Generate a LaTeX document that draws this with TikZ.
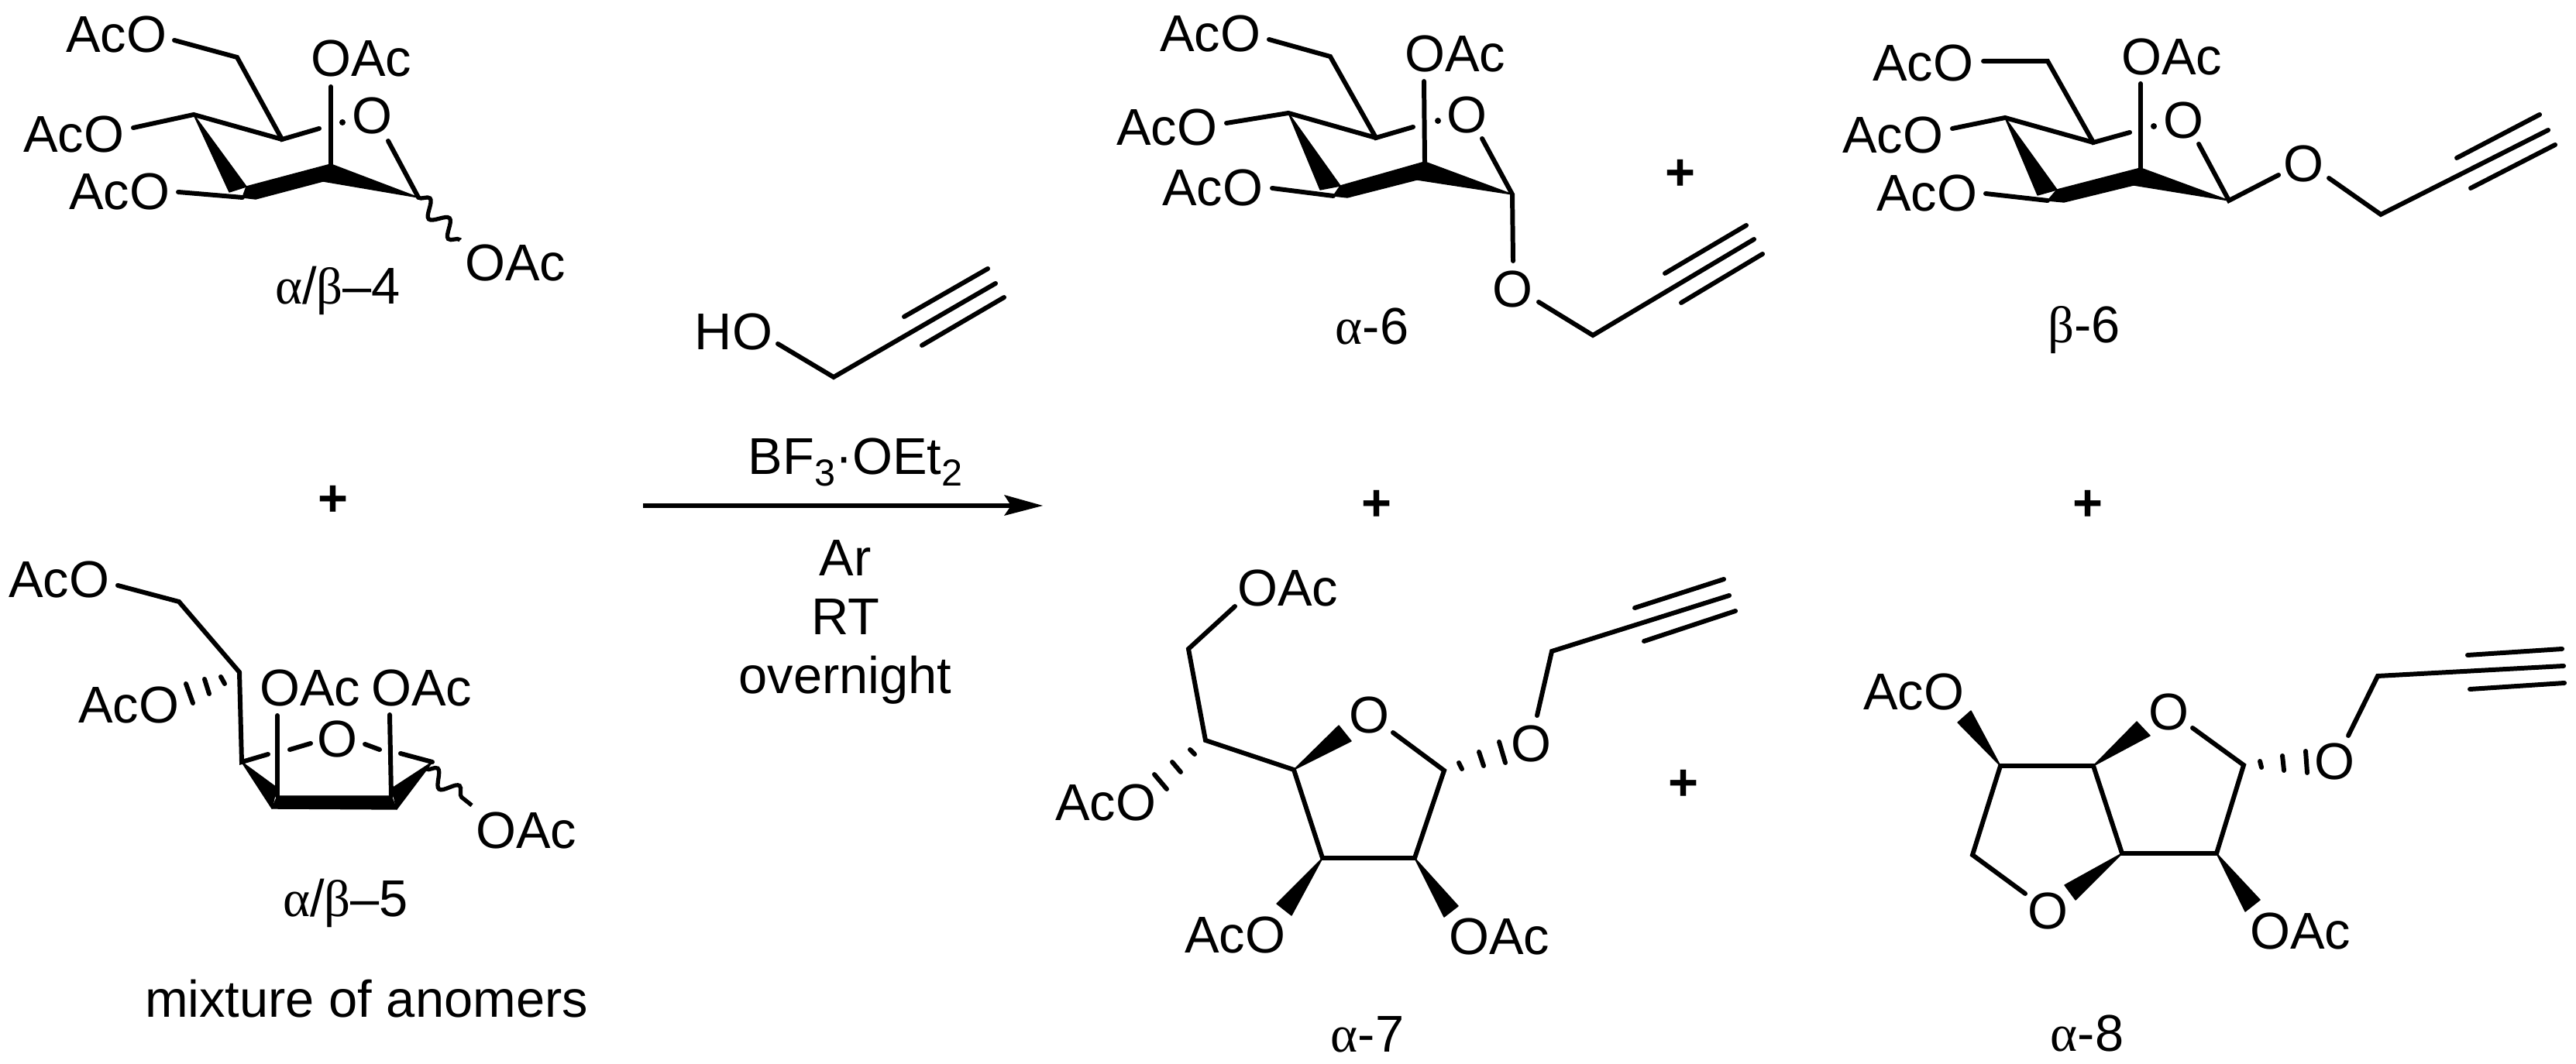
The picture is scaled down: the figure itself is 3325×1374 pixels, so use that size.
\documentclass[tikz,border=0pt]{standalone}
\usepackage{fontspec}
\setmainfont{Liberation Sans}
\newfontfamily\grk{Liberation Serif}
\usetikzlibrary{decorations.pathmorphing}
\tikzset{
  chem/.style={anchor=base,inner sep=0pt,outer sep=0pt,font=\fontsize{19}{21}\selectfont},
  plus/.style={anchor=center,inner sep=0pt,font=\bfseries\fontsize{19}{21}\selectfont},
  bond/.style={line width=1.7pt,line cap=round,line join=miter},
  hashb/.style={line width=1.7pt,line cap=round},
  wedge/.style={fill=black,draw=black,line width=0.4pt,line join=round},
  wavy/.style={line width=1.5pt,decorate,decoration={snake,segment length=0.36cm,amplitude=0.1cm}},
  dotb/.style={fill=black},
  arrowline/.style={line width=1.7pt}
}
\begin{document}
\begin{tikzpicture}[x=0.01cm,y=-0.01cm]
\path[use as bounding box,fill=white] (0,0) rectangle (3325,1374);

% ---------- alpha/beta-4 ----------
\node[chem] (a-t1) at (150,68) {AcO};
\node[chem] (a-t2) at (95,197) {AcO};
\node[chem] (a-t3) at (154,271) {AcO};
\node[chem] (a-t4) at (466,99) {OAc};
\node[chem] (a-o) at (480,173) {O};
\node[chem] (a-t5) at (665,363) {OAc};
\node[chem] (a-lab) at (436,393) {{\grk α}/{\grk β}–4};
\coordinate (a1) at (225,52); \coordinate (a2) at (306,74); \coordinate (a3) at (364,180);
\coordinate (a4) at (412,166); \coordinate (a5) at (250,148); \coordinate (a6) at (172,165);
\coordinate (a7) at (296,248); \coordinate (a8) at (318,241); \coordinate (a9) at (427,212);
\coordinate (a10) at (417,234); \coordinate (a11) at (330,257); \coordinate (a12) at (313,255);
\coordinate (a13) at (230,248); \coordinate (a14) at (427,112); \coordinate (a15) at (442,158);
\coordinate (a16) at (501,182); \coordinate (a17) at (540,255); \coordinate (a18) at (594,310);
\draw[bond] (a1) -- (a2) -- (a3) -- (a4);
\draw[bond] (a6) -- (a5) -- (a3);
\draw[bond] (a13) -- (a12);
\draw[bond] (a14) -- (a9);
\draw[bond] (a16) -- (a17);
\fill[wedge] (a5) -- (a7) -- (a8) -- cycle;
\fill[wedge] (a8) -- (a9) -- (a10) -- (a11) -- (a12) -- cycle;
\fill[wedge] (a9) -- (a17) -- (a10) -- cycle;
\fill[dotb] (a15) circle[radius=4];
\draw[wavy] (a17) -- (a18);

% ---------- alpha/beta-5 ----------
\node[chem] (b-t1) at (76,772) {AcO};
\node[chem] (b-t2) at (166,934) {AcO};
\node[chem] (b-t3) at (400,912) {OAc};
\node[chem] (b-t4) at (544,912) {OAc};
\node[chem] (b-o) at (435,978) {O};
\node[chem] (b-t5) at (679,1095) {OAc};
\node[chem] (b-lab) at (446,1183) {{\grk α}/{\grk β}–5};
\node[chem] (b-mix) at (473,1313) {mixture of anomers};
\coordinate (b1) at (152,756); \coordinate (b2) at (231,777); \coordinate (b3) at (309,868);
\coordinate (b4) at (312,984); \coordinate (b5) at (346,974); \coordinate (b6) at (374,968);
\coordinate (b7) at (401,960); \coordinate (b8) at (471,961); \coordinate (b9) at (490,968);
\coordinate (b10) at (517,973); \coordinate (b11) at (558,984);
\coordinate (b12) at (358,924); \coordinate (b13) at (358,1028);
\coordinate (b14) at (503,923); \coordinate (b15) at (505,1028);
\coordinate (b16) at (357,1017); \coordinate (b17) at (351,1044);
\coordinate (b18) at (512,1045); \coordinate (b19) at (506,1018);
\coordinate (b20) at (550,993); \coordinate (b21) at (609,1040);
\coordinate (bh1) at (285,874); \coordinate (bh2) at (290,883);
\coordinate (bh3) at (264,877); \coordinate (bh4) at (270,896);
\coordinate (bh5) at (240,883); \coordinate (bh6) at (249,908);
\draw[bond] (b1) -- (b2) -- (b3) -- (b4) -- (b5);
\draw[bond] (b6) -- (b7);
\draw[bond] (b8) -- (b9);
\draw[bond] (b10) -- (b11);
\draw[bond] (b12) -- (b13);
\draw[bond] (b14) -- (b15);
\fill[wedge] (b4) -- (b16) -- (b17) -- cycle;
\fill[wedge] (b13) -- (b15) -- (b18) -- (b17) -- cycle;
\fill[wedge] (b11) -- (b19) -- (b18) -- cycle;
\draw[hashb] (bh1) -- (bh2);
\draw[hashb] (bh3) -- (bh4);
\draw[hashb] (bh5) -- (bh6);
\draw[wavy] (b20) -- (b21);

% ---------- reagents and arrow ----------
\node[chem] (r-ho) at (947,452) {HO};
\coordinate (r1) at (1004,444); \coordinate (r2) at (1076,487); \coordinate (r3) at (1285,366);
\coordinate (r4) at (1167,409); \coordinate (r5) at (1275,347);
\coordinate (r6) at (1190,446); \coordinate (r7) at (1296,384);
\draw[bond] (r1) -- (r2) -- (r3);
\draw[bond] (r4) -- (r5);
\draw[bond] (r6) -- (r7);
\node[chem] (r-bf) at (1104,613) {BF{\fontsize{13.8}{14}\selectfont\raisebox{-4pt}{3}}·OEt{\fontsize{13.8}{14}\selectfont\raisebox{-4pt}{2}}};
\node[chem] (r-ar) at (1091,744) {Ar};
\node[chem] (r-rt) at (1091,820) {RT};
\node[chem] (r-on) at (1091,896) {overnight};
\coordinate (ar1) at (830,653); \coordinate (ar2) at (1310,653); \coordinate (ar3) at (1346,653);
\coordinate (ar4) at (1296,639); \coordinate (ar5) at (1305,653); \coordinate (ar6) at (1296,666);
\draw[arrowline] (ar1) -- (ar2);
\fill[black] (ar3) -- (ar4) -- (ar5) -- (ar6) -- cycle;

% ---------- plus signs ----------
\node[plus] (p1) at (430,647) {+};
\node[plus] (p2) at (1777,653) {+};
\node[plus] (p3) at (2695,653) {+};
\node[plus] (p4) at (2169,226) {+};
\node[plus] (p5) at (2173,1014) {+};

% ---------- alpha-6 ----------
\node[chem] (c-t1) at (1562,67) {AcO};
\node[chem] (c-t2) at (1506,188) {AcO};
\node[chem] (c-t3) at (1565,266) {AcO};
\node[chem] (c-t4) at (1878,93) {OAc};
\node[chem] (c-o) at (1893,172) {O};
\node[chem] (c-o2) at (1952,397) {O};
\node[chem] (c-lab) at (1771,445) {{\grk α}-6};
\coordinate (c1) at (1638,51); \coordinate (c2) at (1717,73); \coordinate (c3) at (1776,178);
\coordinate (c4) at (1824,164); \coordinate (c5) at (1663,146); \coordinate (c6) at (1583,159);
\coordinate (c7) at (1704,245); \coordinate (c8) at (1730,240); \coordinate (c9) at (1839,209);
\coordinate (c10) at (1829,232); \coordinate (c11) at (1739,255); \coordinate (c12) at (1721,253);
\coordinate (c13) at (1642,243); \coordinate (c14) at (1838,105); \coordinate (c15) at (1856,156);
\coordinate (c16) at (1913,179); \coordinate (c17) at (1952,251); \coordinate (c18) at (1953,337);
\coordinate (c19) at (1986,390); \coordinate (c20) at (2056,433); \coordinate (c21) at (2264,309);
\coordinate (c22) at (2149,353); \coordinate (c23) at (2254,291);
\coordinate (c24) at (2170,391); \coordinate (c25) at (2275,328);
\draw[bond] (c1) -- (c2) -- (c3) -- (c4);
\draw[bond] (c6) -- (c5) -- (c3);
\draw[bond] (c13) -- (c12);
\draw[bond] (c14) -- (c9);
\draw[bond] (c16) -- (c17) -- (c18);
\draw[bond] (c19) -- (c20) -- (c21);
\draw[bond] (c22) -- (c23);
\draw[bond] (c24) -- (c25);
\fill[wedge] (c5) -- (c7) -- (c8) -- cycle;
\fill[wedge] (c8) -- (c9) -- (c10) -- (c11) -- (c12) -- cycle;
\fill[wedge] (c9) -- (c17) -- (c10) -- cycle;
\fill[dotb] (c15) circle[radius=4];

% ---------- beta-6 ----------
\node[chem] (d-t1) at (2482,105) {AcO};
\node[chem] (d-t2) at (2443,198) {AcO};
\node[chem] (d-t3) at (2487,273) {AcO};
\node[chem] (d-t4) at (2803,97) {OAc};
\node[chem] (d-o) at (2818,179) {O};
\node[chem] (d-o2) at (2973,235) {O};
\node[chem] (d-lab) at (2690,443) {{\grk β}-6};
\coordinate (d1) at (2560,79); \coordinate (d2) at (2643,79); \coordinate (d3) at (2702,184);
\coordinate (d4) at (2749,171); \coordinate (d5) at (2588,152); \coordinate (d6) at (2520,166);
\coordinate (d7) at (2630,252); \coordinate (d8) at (2655,245); \coordinate (d9) at (2763,217);
\coordinate (d10) at (2754,239); \coordinate (d11) at (2664,261); \coordinate (d12) at (2643,259);
\coordinate (d13) at (2563,250); \coordinate (d14) at (2763,108); \coordinate (d15) at (2780,163);
\coordinate (d16) at (2838,186); \coordinate (d17) at (2877,259); \coordinate (d18) at (2941,226);
\coordinate (d19) at (3006,230); \coordinate (d20) at (3073,277); \coordinate (d21) at (3289,168);
\coordinate (d22) at (3171,204); \coordinate (d23) at (3278,148);
\coordinate (d24) at (3189,243); \coordinate (d25) at (3298,187);
\draw[bond] (d1) -- (d2) -- (d3) -- (d4);
\draw[bond] (d6) -- (d5) -- (d3);
\draw[bond] (d13) -- (d12);
\draw[bond] (d14) -- (d9);
\draw[bond] (d16) -- (d17) -- (d18);
\draw[bond] (d19) -- (d20) -- (d21);
\draw[bond] (d22) -- (d23);
\draw[bond] (d24) -- (d25);
\fill[wedge] (d5) -- (d7) -- (d8) -- cycle;
\fill[wedge] (d8) -- (d9) -- (d10) -- (d11) -- (d12) -- cycle;
\fill[wedge] (d9) -- (d17) -- (d10) -- cycle;
\fill[dotb] (d15) circle[radius=4];

% ---------- alpha-7 ----------
\node[chem] (e-t1) at (1662,783) {OAc};
\node[chem] (e-t2) at (1427,1060) {AcO};
\node[chem] (e-o) at (1767,947) {O};
\node[chem] (e-o2) at (1976,984) {O};
\node[chem] (e-t3) at (1594,1230) {AcO};
\node[chem] (e-t4) at (1935,1232) {OAc};
\node[chem] (e-lab) at (1765,1358) {{\grk α}-7};
\coordinate (e1) at (1594,783); \coordinate (e2) at (1534,838); \coordinate (e3) at (1556,956);
\coordinate (e4) at (1670,994); \coordinate (e5) at (1728,937); \coordinate (e6) at (1744,957);
\coordinate (e7) at (1798,946); \coordinate (e8) at (1864,995); \coordinate (e9) at (1707,1108);
\coordinate (e10) at (1826,1108); \coordinate (e11) at (1648,1167); \coordinate (e12) at (1667,1182);
\coordinate (e13) at (1882,1170); \coordinate (e14) at (1864,1184);
\coordinate (e15) at (1984,924); \coordinate (e16) at (2003,841); \coordinate (e17) at (2232,769);
\coordinate (e18) at (2110,785); \coordinate (e19) at (2225,748);
\coordinate (e20) at (2122,828); \coordinate (e21) at (2240,789);
\coordinate (eh1) at (1536,968); \coordinate (eh2) at (1542,974);
\coordinate (eh3) at (1513,984); \coordinate (eh4) at (1524,997);
\coordinate (eh5) at (1490,1000); \coordinate (eh6) at (1506,1019);
\coordinate (eh7) at (1883,985); \coordinate (eh8) at (1887,993);
\coordinate (eh9) at (1909,971); \coordinate (eh10) at (1915,989);
\coordinate (eh11) at (1935,958); \coordinate (eh12) at (1943,985);
\draw[bond] (e1) -- (e2) -- (e3) -- (e4) -- (e9) -- (e10) -- (e8) -- (e7);
\draw[bond] (e15) -- (e16) -- (e17);
\draw[bond] (e18) -- (e19);
\draw[bond] (e20) -- (e21);
\fill[wedge] (e4) -- (e5) -- (e6) -- cycle;
\fill[wedge] (e9) -- (e11) -- (e12) -- cycle;
\fill[wedge] (e10) -- (e13) -- (e14) -- cycle;
\draw[hashb] (eh1) -- (eh2);
\draw[hashb] (eh3) -- (eh4);
\draw[hashb] (eh5) -- (eh6);
\draw[hashb] (eh7) -- (eh8);
\draw[hashb] (eh9) -- (eh10);
\draw[hashb] (eh11) -- (eh12);

% ---------- alpha-8 ----------
\node[chem] (f-t1) at (2470,917) {AcO};
\node[chem] (f-o) at (2799,943) {O};
\node[chem] (f-o2) at (3013,1007) {O};
\node[chem] (f-o3) at (2643,1199) {O};
\node[chem] (f-t2) at (2969,1225) {OAc};
\node[chem] (f-lab) at (2694,1357) {{\grk α}-8};
\coordinate (f1) at (2582,989); \coordinate (f2) at (2544,918); \coordinate (f3) at (2527,933);
\coordinate (f4) at (2702,989); \coordinate (f5) at (2758,932); \coordinate (f6) at (2775,950);
\coordinate (f7) at (2830,940); \coordinate (f8) at (2896,988); \coordinate (f9) at (2739,1102);
\coordinate (f10) at (2861,1102); \coordinate (f11) at (2546,1104); \coordinate (f12) at (2614,1154);
\coordinate (f13) at (2665,1143); \coordinate (f14) at (2679,1162);
\coordinate (f15) at (2917,1162); \coordinate (f16) at (2898,1177);
\coordinate (f17) at (3031,950); \coordinate (f18) at (3069,873); \coordinate (f19) at (3309,860);
\coordinate (f20) at (3185,846); \coordinate (f21) at (3307,838);
\coordinate (f22) at (3188,890); \coordinate (f23) at (3310,882);
\coordinate (fh1) at (2917,983); \coordinate (fh2) at (2919,991);
\coordinate (fh3) at (2946,976); \coordinate (fh4) at (2948,995);
\coordinate (fh5) at (2976,970); \coordinate (fh6) at (2978,998);
\draw[bond] (f12) -- (f11) -- (f1) -- (f4) -- (f9) -- (f10) -- (f8) -- (f7);
\draw[bond] (f17) -- (f18) -- (f19);
\draw[bond] (f20) -- (f21);
\draw[bond] (f22) -- (f23);
\fill[wedge] (f1) -- (f2) -- (f3) -- cycle;
\fill[wedge] (f4) -- (f5) -- (f6) -- cycle;
\fill[wedge] (f9) -- (f13) -- (f14) -- cycle;
\fill[wedge] (f10) -- (f15) -- (f16) -- cycle;
\draw[hashb] (fh1) -- (fh2);
\draw[hashb] (fh3) -- (fh4);
\draw[hashb] (fh5) -- (fh6);
\end{tikzpicture}
\end{document}
